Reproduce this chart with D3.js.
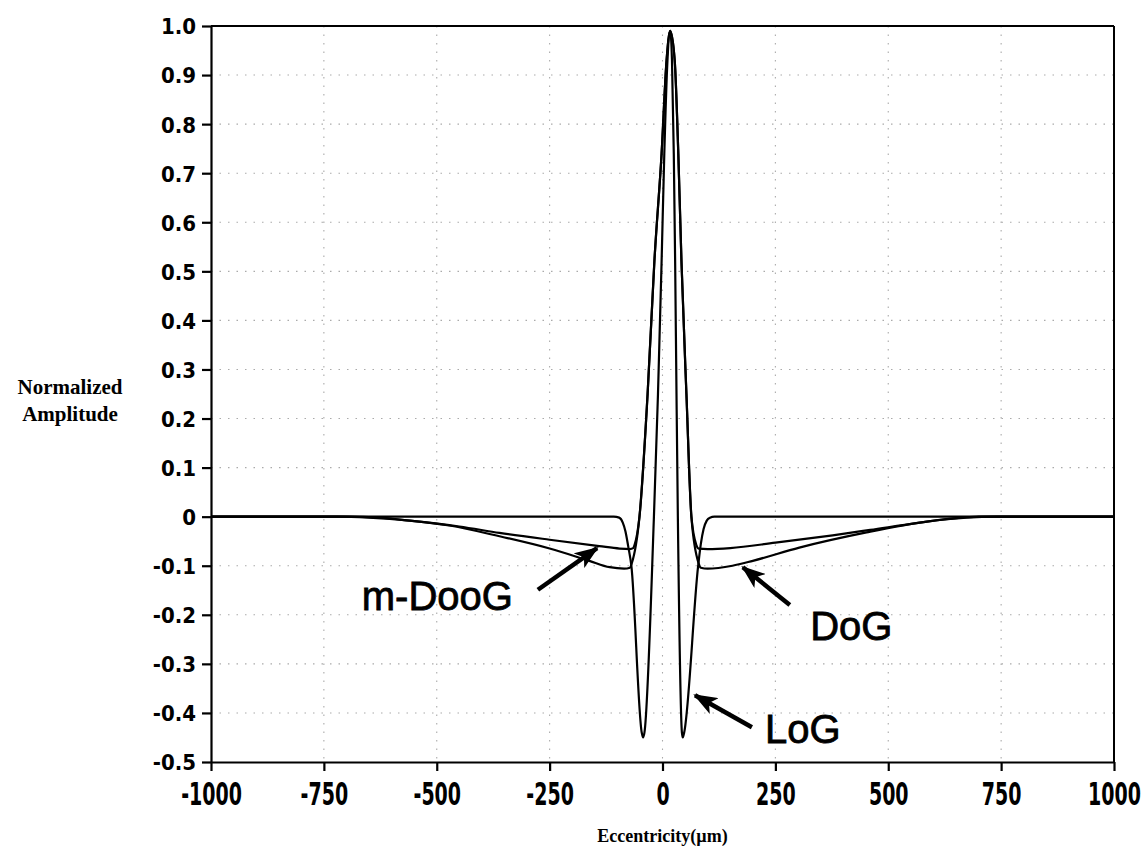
<!DOCTYPE html>
<html>
<head>
<meta charset="utf-8">
<script src="https://cdn.jsdelivr.net/npm/d3@7"></script>
<style>
  html, body { margin: 0; padding: 0; background: #fff; }
  svg { display: block; }
</style>
</head>
<body>
<svg id="chart" width="1145" height="851"></svg>
<script>
// ---------- data ----------
const xTicks = [-1000, -750, -500, -250, 0, 250, 500, 750, 1000];
const xTickLabels = ["-1000", "-750", "-500", "-250", "0", "250", "500", "750", "1000"];
const yTicks = [-0.5, -0.4, -0.3, -0.2, -0.1, 0, 0.1, 0.2, 0.3, 0.4, 0.5, 0.6, 0.7, 0.8, 0.9, 1.0];
const yTickLabels = ["-0.5", "-0.4", "-0.3", "-0.2", "-0.1", "0", "0.1", "0.2", "0.3", "0.4", "0.5", "0.6", "0.7", "0.8", "0.9", "1.0"];

const logX = [-1000, -108, -96, -88, -82, -76, -69, -46, -43, -40, -19, -10, -2, 4, 11, 17, 21, 25, 28, 31, 34, 43, 45, 48, 79, 85, 91, 98, 105, 115, 1000];
const logY = [0, 0, -0.002, -0.012, -0.03, -0.06, -0.1, -0.44, -0.45, -0.44, 0, 0.25, 0.52, 0.74, 0.93, 0.99, 0.93, 0.74, 0.52, 0.25, 0, -0.44, -0.45, -0.44, -0.1, -0.055, -0.025, -0.008, -0.002, 0, 0];

const dogX = [-1000, -720, -650, -560, -472, -361, -250, -162, -117, -85, -72, -68, -51, -33, -18, -2, 9, 17, 27, 35, 42, 53, 64, 80, 85, 100, 155, 200, 303, 452, 585, 673, 740, 1000];
const dogY = [0, 0, -0.002, -0.008, -0.018, -0.04, -0.065, -0.09, -0.103, -0.106, -0.104, -0.095, 0, 0.25, 0.52, 0.74, 0.93, 0.99, 0.93, 0.74, 0.52, 0.25, 0, -0.095, -0.104, -0.106, -0.1, -0.09, -0.063, -0.032, -0.01, -0.002, 0, 0];

const mdoogX = [-1000, -700, -627, -560, -450, -361, -250, -140, -95, -72, -65, -62, -51, -33, -18, -2, 9, 17, 27, 35, 42, 53, 64, 75, 80, 100, 150, 250, 377, 460, 563, 640, 700, 1000];
const mdoogY = [0, 0, -0.002, -0.008, -0.02, -0.033, -0.047, -0.06, -0.065, -0.066, -0.064, -0.058, 0, 0.25, 0.52, 0.74, 0.93, 0.99, 0.93, 0.74, 0.52, 0.25, 0, -0.058, -0.065, -0.066, -0.064, -0.053, -0.038, -0.027, -0.013, -0.004, 0, 0];

// annotations: label text, label anchor (data units), arrow tail and head (data units)
const annLabels = ["m-DooG", "DoG", "LoG"];
const annTextX = [-666, 327, 227];
const annTextY = [-0.19, -0.251, -0.461];
const annTailX = [-276, 282, 198];
const annTailY = [-0.149, -0.18, -0.429];
const annHeadX = [-145, 178, 72];
const annHeadY = [-0.064, -0.103, -0.364];

// ---------- layout ----------
const svg = d3.select("#chart");
const mLeft = 211, mRight = 1114, mTop = 26, mBottom = 762;

const x = d3.scaleLinear().domain([-1000, 1000]).range([mLeft, mRight]);
const y = d3.scaleLinear().domain([-0.5, 1.0]).range([mBottom, mTop]);

svg.append("rect").attr("width", 1145).attr("height", 851).attr("fill", "#fff");

// grid (dotted)
const grid = svg.append("g").attr("stroke", "#aaaaaa").attr("stroke-width", 1.1)
  .attr("stroke-dasharray", "1.5,7");
grid.selectAll("line.v").data(xTicks.filter(v => v > -1000 && v < 1000)).join("line")
  .attr("class", "v").attr("x1", d => x(d)).attr("x2", d => x(d))
  .attr("y1", mTop).attr("y2", mBottom);
grid.selectAll("line.h").data(yTicks.filter(v => v > -0.5 && v < 1.0 && v !== 0)).join("line")
  .attr("class", "h").attr("x1", mLeft).attr("x2", mRight)
  .attr("y1", d => y(d)).attr("y2", d => y(d));

// frame (top & right)
svg.append("line").attr("x1", mLeft).attr("x2", mRight).attr("y1", mTop).attr("y2", mTop)
  .attr("stroke", "#000").attr("stroke-width", 2);
svg.append("line").attr("x1", mRight).attr("x2", mRight).attr("y1", mTop).attr("y2", mBottom)
  .attr("stroke", "#000").attr("stroke-width", 2);

// axes
const xAxis = d3.axisBottom(x).tickValues(xTicks).tickFormat((d, i) => xTickLabels[i])
  .tickSize(9).tickSizeOuter(0);
const gx = svg.append("g").attr("transform", `translate(0,${mBottom})`).call(xAxis);
gx.select(".domain").attr("stroke", "#000").attr("stroke-width", 2.2);
gx.selectAll(".tick line").attr("stroke", "#000").attr("stroke-width", 2.2);
gx.selectAll(".tick text")
  .attr("y", 0).attr("dy", 0)
  .attr("transform", "translate(0,43) scale(0.88,1.3)")
  .attr("font-family", "'Liberation Sans Narrow','DejaVu Sans Condensed',sans-serif")
  .attr("font-weight", "bold").attr("font-size", 24).attr("fill", "#000");

const yAxis = d3.axisLeft(y).tickValues(yTicks).tickFormat((d, i) => yTickLabels[i])
  .tickSize(9).tickPadding(6).tickSizeOuter(0);
const gy = svg.append("g").attr("transform", `translate(${mLeft},0)`).call(yAxis);
gy.select(".domain").attr("stroke", "#000").attr("stroke-width", 2.2);
gy.selectAll(".tick line").attr("stroke", "#000").attr("stroke-width", 2.2);
gy.selectAll(".tick text")
  .attr("dy", "0.36em")
  .attr("font-family", "'Liberation Sans Narrow','DejaVu Sans Condensed',sans-serif")
  .attr("font-weight", "bold").attr("font-size", 22).attr("fill", "#000");

// axis titles
const yTitle = svg.append("text").attr("text-anchor", "middle")
  .attr("font-family", "'Liberation Serif','Times New Roman',serif")
  .attr("font-weight", "bold").attr("font-size", 21).attr("fill", "#000");
yTitle.append("tspan").attr("x", 70).attr("y", 394).text("Normalized");
yTitle.append("tspan").attr("x", 70).attr("y", 421).text("Amplitude");

svg.append("text").attr("x", x(0)).attr("y", 842).attr("text-anchor", "middle")
  .attr("font-family", "'Liberation Serif','Times New Roman',serif")
  .attr("font-weight", "bold").attr("font-size", 18).attr("fill", "#000")
  .text("Eccentricity(µm)");

// curves
const line = d3.line().x(d => x(d[0])).y(d => y(d[1])).curve(d3.curveMonotoneX);
const series = [
  { xs: dogX, ys: dogY },
  { xs: mdoogX, ys: mdoogY },
  { xs: logX, ys: logY }
];
svg.append("g").selectAll("path").data(series).join("path")
  .attr("d", s => line(s.xs.map((v, i) => [v, s.ys[i]])))
  .attr("fill", "none").attr("stroke", "#000").attr("stroke-width", 2.2)
  .attr("stroke-linejoin", "round");

// annotation arrows
const defs = svg.append("defs");
defs.append("marker").attr("id", "ah").attr("markerUnits", "userSpaceOnUse")
  .attr("viewBox", "0 0 24 18").attr("refX", 22).attr("refY", 9)
  .attr("markerWidth", 24).attr("markerHeight", 18).attr("orient", "auto")
  .append("path").attr("d", "M0,0 L24,9 L0,18 L6,9 Z").attr("fill", "#000");

const ann = svg.append("g");
annLabels.forEach((lab, i) => {
  ann.append("line")
    .attr("x1", x(annTailX[i])).attr("y1", y(annTailY[i]))
    .attr("x2", x(annHeadX[i])).attr("y2", y(annHeadY[i]))
    .attr("stroke", "#000").attr("stroke-width", 4.5)
    .attr("marker-end", "url(#ah)");
  ann.append("text").attr("x", x(annTextX[i])).attr("y", y(annTextY[i]))
    .attr("font-family", "'Liberation Sans',Arial,sans-serif")
    .attr("font-size", 40).attr("fill", "#000")
    .attr("stroke", "#000").attr("stroke-width", 0.8)
    .text(lab);
});
</script>
</body>
</html>
